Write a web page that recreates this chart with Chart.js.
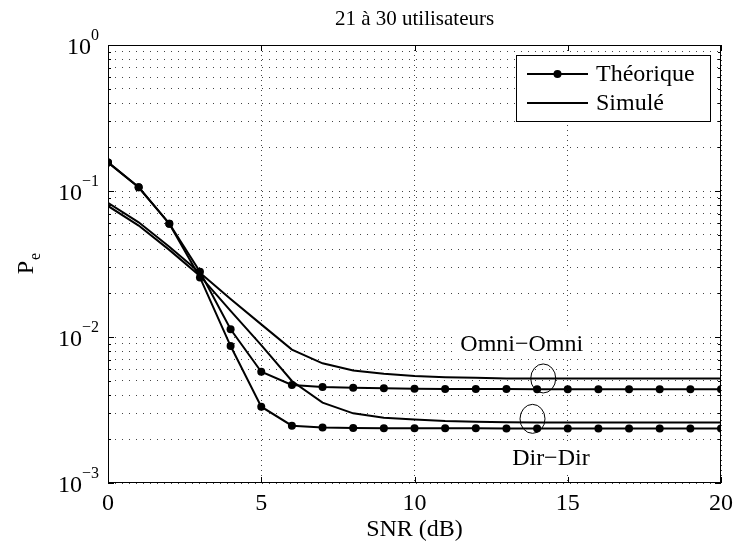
<!DOCTYPE html>
<html>
<head>
<meta charset="utf-8">
<script src="https://cdn.jsdelivr.net/npm/chart.js@4.4.1/dist/chart.umd.min.js"></script>
<style>
  html, body { margin: 0; padding: 0; background: #fff; }
  #wrap { width: 736px; height: 547px; }
</style>
</head>
<body>
<div id="wrap"><canvas id="c" width="736" height="547"></canvas></div>
<script>
// SNR points (dB)
const snr = [0,1,2,3,4,5,6,7,8,9,10,11,12,13,14,15,16,17,18,19,20];

// Error probability, theoretical curves
const theoOmni = [0.157,0.106,0.0597,0.0280,0.0113,0.00578,0.00469,0.00455,0.00450,0.00445,0.00442,0.00441,0.00440,0.00440,0.00439,0.00439,0.00439,0.00438,0.00438,0.00438,0.00438];
const theoDir  = [0.157,0.106,0.0597,0.0256,0.00867,0.00333,0.00247,0.00240,0.00238,0.00237,0.00237,0.00237,0.00237,0.00236,0.00236,0.00236,0.00236,0.00236,0.00236,0.00236,0.00236];

// Error probability, simulated curves
const simOmni = [0.083,0.061,0.0415,0.0275,0.0182,0.0122,0.0082,0.0066,0.0059,0.0056,0.0054,0.0053,0.00525,0.0052,0.0052,0.0052,0.0052,0.0052,0.0052,0.0052,0.0052];
const simDir  = [0.079,0.058,0.0395,0.0262,0.0151,0.0088,0.0050,0.00355,0.0030,0.0028,0.00272,0.00266,0.00263,0.00261,0.0026,0.0026,0.0026,0.0026,0.0026,0.0026,0.0026];

// Axis ticks
const xTicks = [0,5,10,15,20];
const yDecades = [1e-3,1e-2,1e-1,1];
const yDecadeExp = ['\u22123','\u22122','\u22121','0'];

// Labels
const titleText = '21 \u00e0 30 utilisateurs';
const xLabel = 'SNR (dB)';
const legendLabels = ['Th\u00e9orique','Simul\u00e9'];
const groupLabels = ['Omni\u2212Omni','Dir\u2212Dir'];

const FONT = '"Liberation Serif", "Times New Roman", serif';

// log-scale grid: 1..9 x 10^k within the range
const yGrid = [];
yDecades.slice(0, -1).forEach(d => { for (let m = 1; m < 10; m++) yGrid.push(m * d); });
yGrid.push(1);

const pts = arr => snr.map((s, i) => ({ x: s, y: arr[i] }));

const lineStyle = { borderColor: '#000', backgroundColor: '#000', borderWidth: 2, tension: 0, fill: false };

// group circles and labels, placed in data units
const groupMarks = [
  { text: groupLabels[0], tx: 13.5, ty: 8.95e-3, cx: 14.2, cy: 5.2e-3 },
  { text: groupLabels[1], tx: 14.45, ty: 1.48e-3, cx: 13.85, cy: 2.75e-3 }
];

const framePlugin = {
  id: 'frame',
  afterDraw(chart) {
    const { ctx, chartArea: a, scales: { x, y } } = chart;
    ctx.save();

    // title, centred over the plot area
    ctx.fillStyle = '#000';
    ctx.font = `21px ${FONT}`;
    ctx.textAlign = 'center';
    ctx.textBaseline = 'middle';
    ctx.fillText(titleText, (a.left + a.right) / 2, 19);

    // group labels with white backing, and their circles
    ctx.font = `24px ${FONT}`;
    groupMarks.forEach(g => {
      const tx = x.getPixelForValue(g.tx), ty = y.getPixelForValue(g.ty);
      const w = ctx.measureText(g.text).width;
      ctx.fillStyle = '#fff';
      ctx.fillRect(tx - w / 2 - 6, ty - 14, w + 12, 28);
      ctx.fillStyle = '#000';
      ctx.fillText(g.text, tx, ty + 1);
      ctx.beginPath();
      ctx.lineWidth = 1;
      ctx.strokeStyle = '#000';
      ctx.ellipse(x.getPixelForValue(g.cx), y.getPixelForValue(g.cy), 12.5, 14.5, 0, 0, Math.PI * 2);
      ctx.stroke();
    });

    // legend box
    const L = { x: a.right - 205, y: a.top + 10, w: 194, h: 66 };
    ctx.fillStyle = '#fff';
    ctx.fillRect(L.x, L.y, L.w, L.h);
    ctx.strokeStyle = '#000';
    ctx.lineWidth = 1;
    ctx.strokeRect(L.x + 0.5, L.y + 0.5, L.w, L.h);
    const rows = [L.y + 19, L.y + 48];
    ctx.font = `24px ${FONT}`;
    ctx.textAlign = 'left';
    ctx.textBaseline = 'middle';
    rows.forEach((ry, i) => {
      ctx.beginPath();
      ctx.lineWidth = 2;
      ctx.moveTo(L.x + 11, ry);
      ctx.lineTo(L.x + 72, ry);
      ctx.stroke();
      if (i === 0) {
        ctx.beginPath();
        ctx.fillStyle = '#000';
        ctx.arc(L.x + 41.5, ry, 4, 0, Math.PI * 2);
        ctx.fill();
      }
      ctx.fillStyle = '#000';
      ctx.fillText(legendLabels[i], L.x + 80, ry + 1);
    });

    // inward tick marks
    ctx.strokeStyle = '#000';
    ctx.lineWidth = 1;
    ctx.beginPath();
    xTicks.forEach(v => {
      const px = Math.round(x.getPixelForValue(v)) + 0.5;
      ctx.moveTo(px, a.bottom); ctx.lineTo(px, a.bottom - 6);
      ctx.moveTo(px, a.top); ctx.lineTo(px, a.top + 6);
    });
    yGrid.forEach(v => {
      const py = Math.round(y.getPixelForValue(v)) + 0.5;
      const len = yDecades.includes(v) ? 6 : 3;
      ctx.moveTo(a.left, py); ctx.lineTo(a.left + len, py);
      ctx.moveTo(a.right, py); ctx.lineTo(a.right - len, py);
    });
    ctx.stroke();

    // axes box
    ctx.strokeRect(a.left + 0.5, a.top + 0.5, a.right - a.left - 1, a.bottom - a.top - 1);

    // y tick labels 10^k
    ctx.fillStyle = '#000';
    ctx.textAlign = 'left';
    ctx.textBaseline = 'alphabetic';
    yDecades.forEach((v, i) => {
      const py = y.getPixelForValue(v);
      ctx.font = `16px ${FONT}`;
      const we = ctx.measureText(yDecadeExp[i]).width;
      ctx.font = `24px ${FONT}`;
      const wb = ctx.measureText('10').width;
      const right = a.left - 9;
      ctx.fillText('10', right - we - wb, py + 9);
      ctx.font = `16px ${FONT}`;
      ctx.fillText(yDecadeExp[i], right - we, py - 5);
    });

    // y axis title P_e
    ctx.translate(25, (a.top + a.bottom) / 2);
    ctx.rotate(-Math.PI / 2);
    ctx.font = `24px ${FONT}`;
    const wP = ctx.measureText('P').width;
    ctx.font = `16px ${FONT}`;
    const wE = ctx.measureText('e').width;
    const start = -(wP + wE) / 2;
    ctx.font = `24px ${FONT}`;
    ctx.fillText('P', start, 8);
    ctx.font = `16px ${FONT}`;
    ctx.fillText('e', start + wP + 1, 15);

    ctx.restore();
  }
};

new Chart(document.getElementById('c'), {
  type: 'line',
  data: {
    datasets: [
      { ...lineStyle, label: legendLabels[0] + ' Omni', data: pts(theoOmni), pointRadius: 4, pointBorderWidth: 0 },
      { ...lineStyle, label: legendLabels[0] + ' Dir', data: pts(theoDir), pointRadius: 4, pointBorderWidth: 0 },
      { ...lineStyle, label: legendLabels[1] + ' Omni', data: pts(simOmni), pointRadius: 0 },
      { ...lineStyle, label: legendLabels[1] + ' Dir', data: pts(simDir), pointRadius: 0 }
    ]
  },
  options: {
    responsive: false,
    animation: false,
    devicePixelRatio: 1,
    layout: { padding: { left: 0, right: 15, top: 45, bottom: 0 } },
    plugins: {
      legend: { display: false },
      tooltip: { enabled: false },
      title: { display: false }
    },
    scales: {
      x: {
        type: 'linear',
        min: 0, max: 20,
        afterBuildTicks: s => { s.ticks = xTicks.map(v => ({ value: v })); },
        afterFit: s => { s.height = 64; s.paddingLeft = 0; s.paddingRight = 0; },
        ticks: { color: '#000', font: { family: FONT, size: 24 }, padding: 6, maxRotation: 0 },
        grid: { color: '#444', lineWidth: 1, drawTicks: false },
        border: { display: false, dash: [1, 4] },
        title: { display: true, text: xLabel, color: '#000', font: { family: FONT, size: 24 }, padding: { top: 0, bottom: 3 } }
      },
      y: {
        type: 'logarithmic',
        min: 1e-3, max: 1,
        afterBuildTicks: s => { s.ticks = yGrid.map(v => ({ value: v })); },
        afterFit: s => { s.width = 108; },
        ticks: { display: false },
        grid: { color: '#444', lineWidth: 1, drawTicks: false },
        border: { display: false, dash: [1, 6] }
      }
    }
  },
  plugins: [framePlugin]
});
</script>
</body>
</html>
